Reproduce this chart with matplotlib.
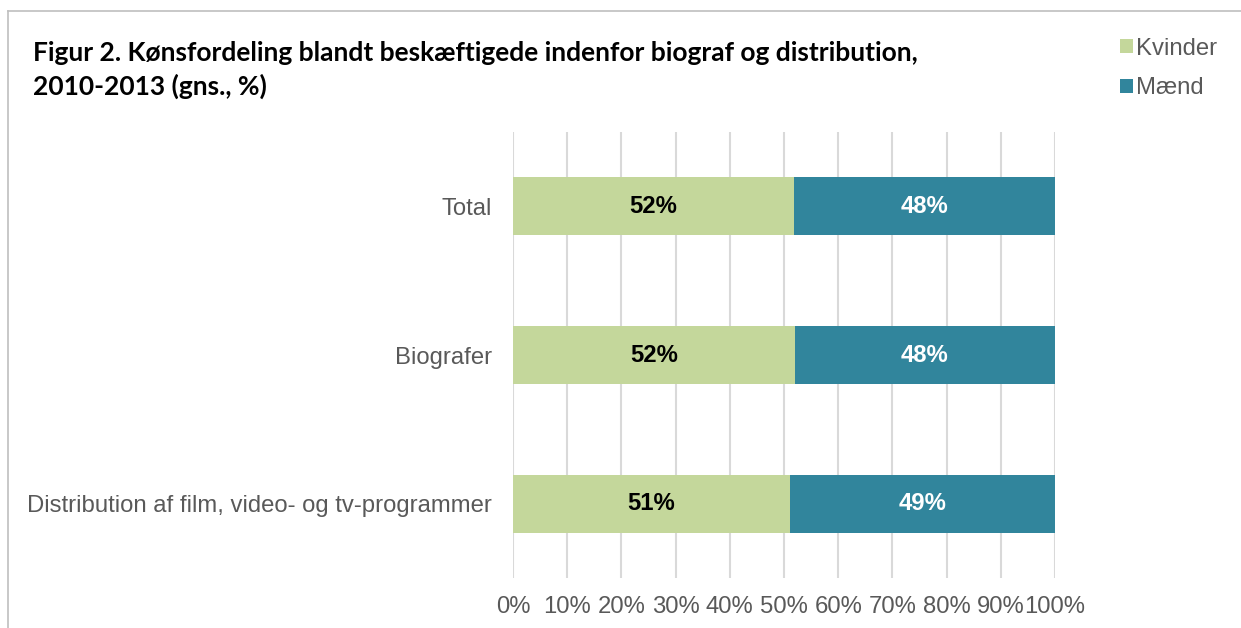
import matplotlib.pyplot as plt
from matplotlib.lines import Line2D

# data
categories = ["Total", "Biografer", "Distribution af film, video- og tv-programmer"]
kvinder = [51.8, 52.0, 51.1]
maend = [100 - v for v in kvinder]
xticks = list(range(0, 101, 10))

green = "#C4D79B"
teal = "#31859C"
gray = "#595959"
fs = 17.2

fig = plt.figure(figsize=(12.41, 6.28), dpi=100)
ax = fig.add_axes([513 / 1241, 1 - 578 / 628, 542 / 1241, 446 / 628])

y = list(range(len(categories)))
ax.barh(y, kvinder, height=0.39, color=green, zorder=3)
ax.barh(y, maend, left=kvinder, height=0.39, color=teal, zorder=3)

for i in y:
    ax.text(kvinder[i] / 2, i, f"{kvinder[i]:.0f}%", ha="center", va="center",
            fontsize=fs, fontweight="bold", color="black", family="Liberation Sans", zorder=4)
    ax.text(kvinder[i] + maend[i] / 2, i, f"{maend[i]:.0f}%", ha="center", va="center",
            fontsize=fs, fontweight="bold", color="white", family="Liberation Sans", zorder=4)

ax.set_xlim(0, 100)
ax.set_ylim(2.5, -0.5)
ax.set_xticks(xticks)
ax.set_xticklabels([f"{t}%" for t in xticks], fontsize=fs, color=gray, family="Liberation Sans")
ax.set_yticks(y)
ax.set_yticklabels(categories, fontsize=fs, color=gray, family="Liberation Sans")
ax.tick_params(length=0)
ax.tick_params(axis="x", pad=13)
ax.tick_params(axis="y", pad=15)
ax.grid(axis="x", color="#D9D9D9", linewidth=1.5, zorder=0)
for s in ax.spines.values():
    s.set_visible(False)

# title
fig.text(33 / 1241, 1 - 70 / 628, "Figur 2. Kønsfordeling blandt beskæftigede indenfor biograf og distribution,\n2010-2013 (gns., %)",
         fontsize=19, fontweight="bold", family="Lato", va="center", ha="left", linespacing=1.4)

# legend
leg = ax.legend(["Kvinder", "Mænd"], loc="upper left", bbox_to_anchor=(1110 / 1241, 1 - 28 / 628),
                bbox_transform=fig.transFigure, frameon=False, prop={"family": "Liberation Sans", "size": fs},
                handlelength=0.55, handleheight=0.55, handletextpad=0.15, labelspacing=0.75, borderaxespad=0)
for t in leg.get_texts():
    t.set_color(gray)

# frame lines
fig.add_artist(Line2D([8 / 1241, 1], [1 - 11 / 628, 1 - 11 / 628], color="#BFBFBF", linewidth=1.2))
fig.add_artist(Line2D([8 / 1241, 8 / 1241], [0, 1 - 11 / 628], color="#BFBFBF", linewidth=1.2))

fig.savefig("out.png", dpi=100, facecolor="white")
